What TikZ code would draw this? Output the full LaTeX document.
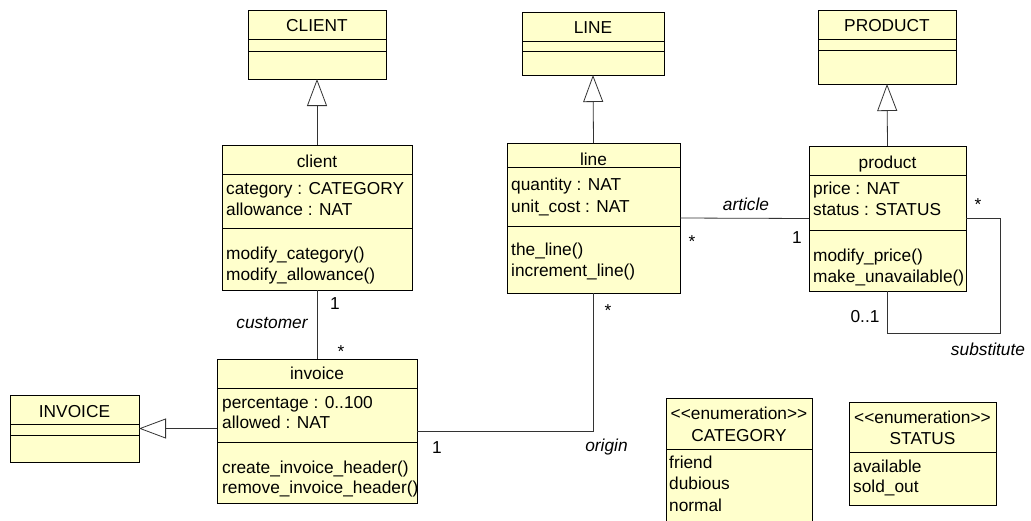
\documentclass[tikz,border=0pt]{standalone}
\usepackage{fontspec}
\newfontfamily\umlfont{Liberation Sans}
\usetikzlibrary{arrows.meta}
\definecolor{boxfill}{HTML}{FFFFCC}
\definecolor{conncol}{HTML}{333333}
\newcommand\umlsize{\fontsize{17.3}{20}\selectfont}
\begin{document}
\begin{tikzpicture}[x=1pt,y=-1pt,
  box/.style={draw=black, fill=boxfill, line width=0.9pt, inner sep=0pt, outer sep=0pt, anchor=north west},
  sepline/.style={draw=black, line width=0.9pt},
  txt/.style={anchor=base west, inner sep=0pt, font=\umlfont\umlsize},
  ttl/.style={anchor=base, inner sep=0pt, font=\umlfont\umlsize},
  lbl/.style={anchor=base, inner sep=0pt, font=\umlfont\umlsize},
  ilbl/.style={anchor=base, inner sep=0pt, font=\umlfont\itshape\umlsize},
  conn/.style={draw=conncol, line width=0.8pt},
  gen/.style={conn, -{Triangle[open, length=27pt, width=20pt, fill=white]}}
]
\path[fill=white, use as bounding box] (0,0) rectangle (1031,520);

% ---------- CLIENT ----------
\node[box, minimum width=138pt, minimum height=69pt] (CLIENT) at (248,10) {};
\draw[sepline] (248,39) -- (386,39);
\draw[sepline] (248,51) -- (386,51);
\node[ttl] (CLIENTn) at (317,31) {CLIENT};

% ---------- LINE ----------
\node[box, minimum width=142pt, minimum height=63pt] (LINE) at (522,12) {};
\draw[sepline] (522,41) -- (664,41);
\draw[sepline] (522,51) -- (664,51);
\node[ttl] (LINEn) at (593,33) {LINE};

% ---------- PRODUCT ----------
\node[box, minimum width=138pt, minimum height=74pt] (PRODUCT) at (818,10) {};
\draw[sepline] (818,39) -- (956,39);
\draw[sepline] (818,50) -- (956,50);
\node[ttl] (PRODUCTn) at (887,31) {PRODUCT};

% ---------- client ----------
\node[box, minimum width=190pt, minimum height=145pt] (client) at (222,145) {};
\draw[sepline] (222,174) -- (412,174);
\draw[sepline] (222,228) -- (412,228);
\node[ttl] (clientn) at (317,167) {client};
\node[txt] (clienta1) at (226,194) {category : CATEGORY};
\node[txt] (clienta2) at (226,215) {allowance : NAT};
\node[txt] (clientm1) at (226,259) {modify\_category()};
\node[txt] (clientm2) at (226,280) {modify\_allowance()};

% ---------- line ----------
\node[box, minimum width=173pt, minimum height=150pt] (line) at (507,143) {};
\draw[sepline] (507,167) -- (680,167);
\draw[sepline] (507,226) -- (680,226);
\node[ttl] (linen) at (593.5,165) {line};
\node[txt] (linea1) at (511,190) {quantity : NAT};
\node[txt] (linea2) at (511,212) {unit\_cost : NAT};
\node[txt] (linem1) at (511,255) {the\_line()};
\node[txt] (linem2) at (511,276) {increment\_line()};

% ---------- product ----------
\node[box, minimum width=157pt, minimum height=145pt] (product) at (809,146) {};
\draw[sepline] (809,175) -- (966,175);
\draw[sepline] (809,230) -- (966,230);
\node[ttl] (productn) at (887.5,168) {product};
\node[txt] (producta1) at (813,194) {price : NAT};
\node[txt] (producta2) at (813,215) {status : STATUS};
\node[txt] (productm1) at (813,261) {modify\_price()};
\node[txt] (productm2) at (813,282) {make\_unavailable()};

% ---------- invoice ----------
\node[box, minimum width=200pt, minimum height=144pt] (invoice) at (217,359) {};
\draw[sepline] (217,388) -- (417,388);
\draw[sepline] (217,442) -- (417,442);
\node[ttl] (invoicen) at (317,379) {invoice};
\node[txt] (invoicea1) at (222,408) {percentage : 0..100};
\node[txt] (invoicea2) at (222,428) {allowed : NAT};
\node[txt] (invoicem1) at (222,473) {create\_invoice\_header()};
\node[txt] (invoicem2) at (222,493) {remove\_invoice\_header()};

% ---------- INVOICE ----------
\node[box, minimum width=129pt, minimum height=67pt] (INVOICE) at (10,395) {};
\draw[sepline] (10,424) -- (139,424);
\draw[sepline] (10,435) -- (139,435);
\node[ttl] (INVOICEn) at (74.5,417) {INVOICE};

% ---------- CATEGORY ----------
\node[box, minimum width=146pt, minimum height=140pt] (CATEGORY) at (666,398) {};
\draw[sepline] (666,449) -- (812,449);
\node[ttl] (CATEGORYs) at (739,419) {<\kern0pt<enumeration>\kern0pt>};
\node[ttl] (CATEGORYn) at (739,441) {CATEGORY};
\node[txt] (cat1) at (669,468) {friend};
\node[txt] (cat2) at (669,489) {dubious};
\node[txt] (cat3) at (669,511) {normal};

% ---------- STATUS ----------
\node[box, minimum width=147pt, minimum height=103pt] (STATUS) at (849,402) {};
\draw[sepline] (849,452) -- (996,452);
\node[ttl] (STATUSs) at (922.5,423) {<\kern0pt<enumeration>\kern0pt>};
\node[ttl] (STATUSn) at (922.5,444) {STATUS};
\node[txt] (st1) at (853,472) {available};
\node[txt] (st2) at (853,492) {sold\_out};

% ---------- generalisations ----------
\draw[gen] (client.north) -- (CLIENT.south);
\draw[gen] (line.north) -- (LINE.south);
\draw[gen] (product.north) -- (PRODUCT.south);
\draw[gen] (invoice.west |- INVOICE.east) -- (INVOICE.east);

% ---------- associations ----------
\draw[conn] (client.south) -- (invoice.north);
\draw[conn] (line.south) |- (invoice.east);
\draw[conn] (line.east) -- (product.west);
\coordinate (subcorner) at (1000,333);
\draw[conn] (product.east) -| (subcorner) -| (product.south);

% ---------- labels ----------
\node[lbl] (l1) at (335,309) {1};
\node[ilbl] (lcustomer) at (272,328) {customer};
\node[lbl] (l2) at (341,357) {*};
\node[lbl] (l3) at (608,316) {*};
\node[lbl] (l4) at (437,453) {1};
\node[ilbl] (lorigin) at (606.5,451) {origin};
\node[ilbl] (larticle) at (746,210) {article};
\node[lbl] (l5) at (692,247) {*};
\node[lbl] (l6) at (797,243) {1};
\node[lbl] (l7) at (978,210) {*};
\node[lbl] (l8) at (865,322) {0..1};
\node[ilbl] (lsubstitute) at (988,355) {substitute};
\end{tikzpicture}
\end{document}
